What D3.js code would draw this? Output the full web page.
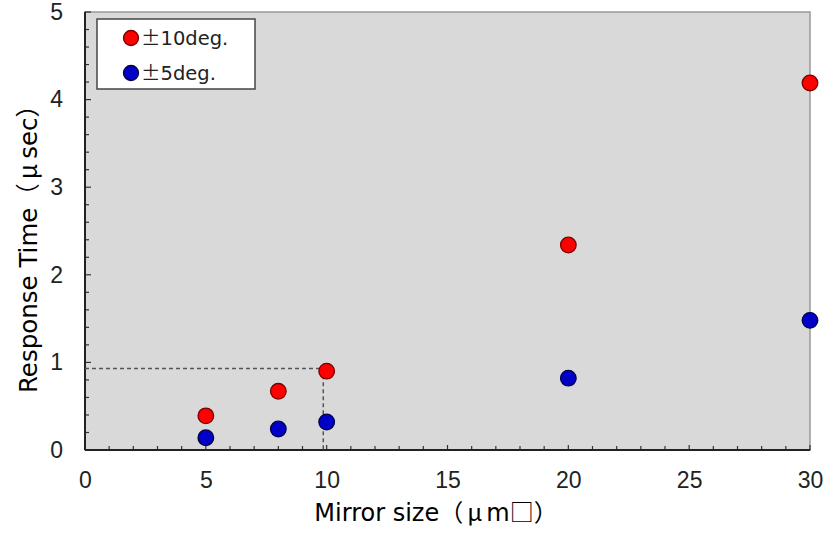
<!DOCTYPE html>
<html><head><meta charset="utf-8">
<script src="https://cdn.jsdelivr.net/npm/d3@7"></script>
<style>body{margin:0;background:#fff}svg{display:block}</style>
</head><body>
<script>
const sizes = [5, 8, 10, 20, 30];
const deg10 = [0.39, 0.67, 0.90, 2.34, 4.19];
const deg5 = [0.14, 0.24, 0.32, 0.82, 1.48];
const seriesSigns = ["±", "±"];
const seriesNames = ["10deg.", "5deg."];
const seriesColors = ["#ff0000", "#0000c8"];
const seriesStroke = ["#7a0000", "#00004a"];
const xTicks = [0, 5, 10, 15, 20, 25, 30];
const yTicks = [0, 1, 2, 3, 4, 5];
const guide = {x: 9.86, y: 0.93};

const W = 835, H = 546;
const m = {left: 85, right: 25, top: 12, bottom: 96};
const svg = d3.select("body").append("svg").attr("width", W).attr("height", H);
const x = d3.scaleLinear().domain([0, 30]).range([m.left, W - m.right]);
const y = d3.scaleLinear().domain([0, 5]).range([H - m.bottom, m.top]);

svg.append("rect").attr("x", x(0)).attr("y", y(5)).attr("width", x(30) - x(0)).attr("height", y(0) - y(5))
  .attr("fill", "#d9d9d9").attr("stroke", "#999").attr("stroke-width", 1.5);

const g = svg.append("g");
d3.range(0, 31, 1).forEach(v => {
  const len = v % 5 === 0 ? 5 : 4;
  g.append("line").attr("x1", x(v)).attr("x2", x(v)).attr("y1", y(0)).attr("y2", y(0) - len).attr("stroke", "#333").attr("stroke-width", 1.2);
});
d3.range(0, 26, 1).forEach(i => {
  const v = i * 0.2;
  const len = i % 5 === 0 ? 6 : 4;
  g.append("line").attr("x1", x(0)).attr("x2", x(0) + len).attr("y1", y(v)).attr("y2", y(v)).attr("stroke", "#333").attr("stroke-width", 1.2);
});
g.append("line").attr("x1", x(0)).attr("x2", x(30)).attr("y1", y(0)).attr("y2", y(0)).attr("stroke", "#222").attr("stroke-width", 2);
g.append("line").attr("x1", x(0)).attr("x2", x(0)).attr("y1", y(0)).attr("y2", y(5)).attr("stroke", "#222").attr("stroke-width", 2);

const tickFont = "Liberation Sans, Arial, sans-serif";
const xAxis = d3.axisBottom(x).tickValues(xTicks).tickFormat(d3.format("d")).tickSize(0).tickPadding(22);
svg.append("g").attr("transform", `translate(0,${y(0)})`).call(xAxis)
  .call(s => s.select(".domain").remove())
  .selectAll("text").attr("font-family", tickFont).attr("font-size", 23).attr("fill", "#222");
const yAxis = d3.axisLeft(y).tickValues(yTicks).tickFormat(d3.format("d")).tickSize(0).tickPadding(22);
svg.append("g").attr("transform", `translate(${x(0)},0)`).call(yAxis)
  .call(s => s.select(".domain").remove())
  .selectAll("text").attr("font-family", tickFont).attr("font-size", 23).attr("fill", "#222");

svg.append("path").attr("d", `M${x(0)},${y(guide.y)}H${x(guide.x)}V${y(0)}`)
  .attr("fill", "none").attr("stroke", "#555").attr("stroke-width", 1.5).attr("stroke-dasharray", "4,3");

[deg10, deg5].forEach((vals, si) => {
  svg.append("g").selectAll("circle").data(vals.map((v, i) => [sizes[i], v])).join("circle")
    .attr("cx", d => x(d[0])).attr("cy", d => y(d[1])).attr("r", 7.8)
    .attr("fill", seriesColors[si]).attr("stroke", seriesStroke[si]).attr("stroke-width", 1.3);
});

const lg = svg.append("g");
lg.append("rect").attr("x", 97).attr("y", 19).attr("width", 158).attr("height", 70).attr("fill", "#fff").attr("stroke", "#444").attr("stroke-width", 1.5);
seriesNames.forEach((n, i) => {
  const cy = 38 + i * 35;
  lg.append("circle").attr("cx", 131).attr("cy", cy).attr("r", 7.5).attr("fill", seriesColors[i]).attr("stroke", seriesStroke[i]).attr("stroke-width", 1.3);
  const t = lg.append("text").attr("x", 141).attr("y", cy + 7).attr("font-family", "DejaVu Sans, sans-serif").attr("font-size", 19.5).attr("fill", "#222");
  t.append("tspan").attr("font-family", "Noto Sans CJK JP, sans-serif").text(seriesSigns[i]);
  t.append("tspan").text(n);
});

function title(sel, parts) {
  parts.forEach(p => sel.append("tspan").attr("dx", p[2] || 0).attr("font-family", p[1] ? "Noto Sans CJK JP, sans-serif" : "DejaVu Sans, sans-serif").text(p[0]));
}
const xt = svg.append("text").attr("x", 436).attr("y", 521).attr("text-anchor", "middle").attr("font-size", 24).attr("fill", "#000");
title(xt, [["Mirror size", 0], ["（", 1], ["μ", 1, 4], ["m", 0, 4], ["□", 1], ["）", 1]]);
const yt = svg.append("text").attr("transform", "translate(37,243) rotate(-90)").attr("text-anchor", "middle").attr("font-size", 24.5).attr("fill", "#000");
title(yt, [["Response Time", 0], ["（", 1], ["μ", 1, 4], ["sec", 0, 5], ["）", 1]]);
</script>
</body></html>
